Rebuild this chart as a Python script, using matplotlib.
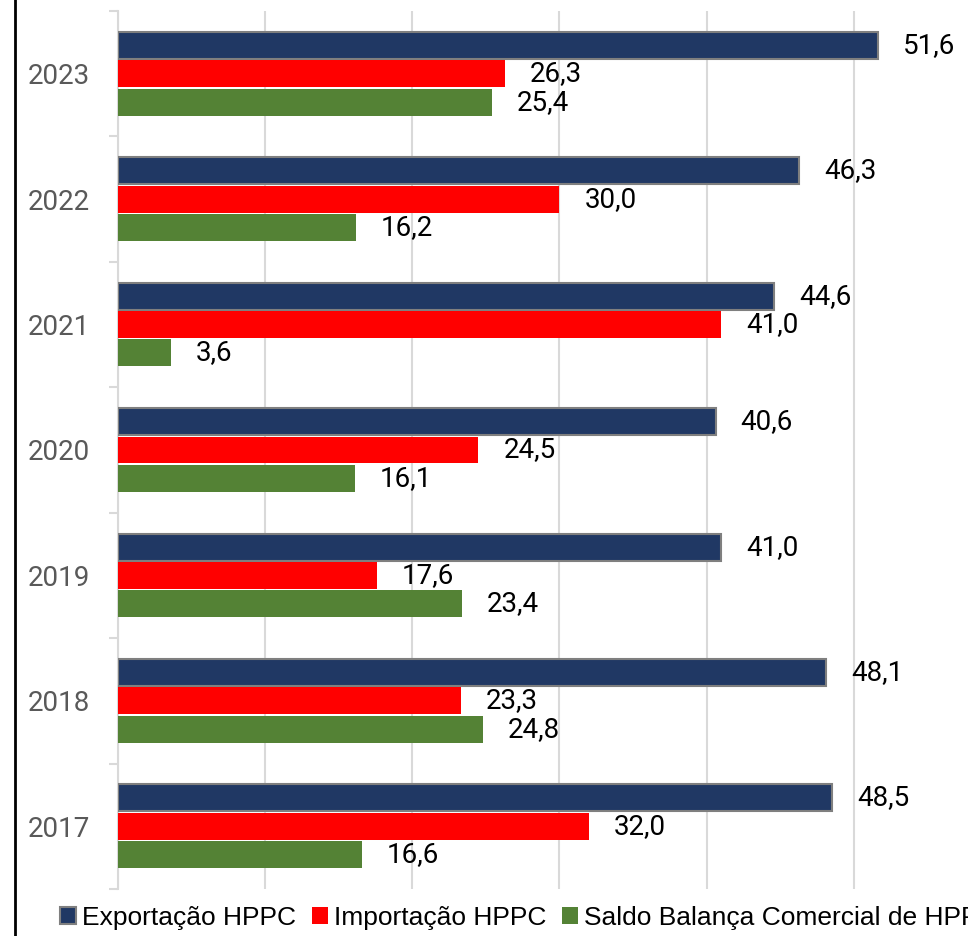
import numpy as np
import matplotlib.pyplot as plt
from matplotlib.lines import Line2D

# dados (bilhões US$)
anos = ['2017', '2018', '2019', '2020', '2021', '2022', '2023']
exportacao = [48.5, 48.1, 41.0, 40.6, 44.6, 46.3, 51.6]
importacao = [32.0, 23.3, 17.6, 24.5, 41.0, 30.0, 26.3]
saldo = [16.6, 24.8, 23.4, 16.1, 3.6, 16.2, 25.4]

series_nomes = ['Exportação HPPC', 'Importação HPPC', 'Saldo Balança Comercial de HPPC']
cores = ['#203864', '#FF0000', '#548235']

W, H = 968, 936
fig = plt.figure(figsize=(W / 100, H / 100), dpi=100)
ax = fig.add_axes([117.5 / W, 1 - 889 / H, 1 - 117.5 / W, (889 - 11) / H])

y = np.arange(len(anos))
alt = 0.215
passo = 0.226

b1 = ax.barh(y + passo, exportacao, height=alt, color=cores[0],
             edgecolor='#7f7f7f', linewidth=1.5, label=series_nomes[0], zorder=3)
b2 = ax.barh(y, importacao, height=alt, color=cores[1],
             label=series_nomes[1], zorder=3)
b3 = ax.barh(y - passo, saldo, height=alt, color=cores[2],
             label=series_nomes[2], zorder=3)

fonte = 'Roboto'
for barras in (b1, b2, b3):
    rot = [f'{v:.1f}'.replace('.', ',') for v in barras.datavalues]
    ax.bar_label(barras, labels=rot, padding=18, fontsize=20,
                 family=fonte, color='#000000')

ax.set_xlim(0, (W - 117.5) / 14.73)
ax.set_ylim(-0.5, len(anos) - 0.5)
ax.set_xticks(np.arange(0, 60, 10))
ax.xaxis.set_tick_params(length=0, labelbottom=False)
ax.grid(axis='x', color='#d9d9d9', linewidth=1.5, zorder=0)

ax.set_yticks(np.arange(-0.5, len(anos), 1.0))
ax.set_yticklabels([])
ax.tick_params(axis='y', which='major', length=6.5, width=1.5, color='#d9d9d9')
ax.set_yticks(y, minor=True)
ax.set_yticklabels(anos, minor=True, fontsize=20, family=fonte, color='#595959')
ax.tick_params(axis='y', which='minor', length=0, pad=20)

for lado in ['top', 'right', 'bottom']:
    ax.spines[lado].set_visible(False)
ax.spines['left'].set_color('#d9d9d9')
ax.spines['left'].set_linewidth(1.5)

# linha preta à esquerda
fig.add_artist(Line2D([14.5 / W, 14.5 / W], [0, 1], color='black', linewidth=2))

fig.legend(handles=[b1, b2, b3], loc='center left',
           bbox_to_anchor=(60 / W, 1 - 918 / H), ncol=3, frameon=False,
           prop={'family': 'Liberation Sans', 'size': 19},
           handlelength=0.6, handleheight=0.6, handletextpad=0.23,
           columnspacing=0.6, borderpad=0, borderaxespad=0)

fig.savefig('out.png', dpi=100)
